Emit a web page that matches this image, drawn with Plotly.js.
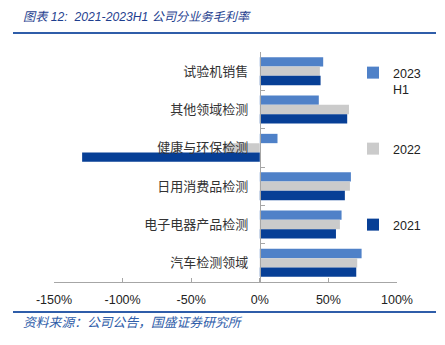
<!DOCTYPE html>
<html>
<head>
<meta charset="utf-8">
<script src="https://cdn.plot.ly/plotly-3.0.1.min.js"></script>
<style>html,body{margin:0;padding:0;background:#fff;}#chart{width:445px;height:345px;}</style>
</head>
<body>
<div id="chart"></div>
<script>
const categories = ['试验机销售', '其他领域检测', '健康与环保检测', '日用消费品检测', '电子电器产品检测', '汽车检测领域'];
const seriesNames = ['2023<br>H1', '2022', '2021'];
const v2023H1 = [46.2, 43.0, 12.9, 66.4, 59.6, 74.2];
const v2022 = [43.8, 65.0, -26.5, 65.7, 58.4, 71.0];
const v2021 = [44.3, 63.7, -129.5, 62.0, 55.5, 70.3];
const xTickVals = [-150, -100, -50, 0, 50, 100];
const xTickText = ['-150%', '-100%', '-50%', '0%', '50%', '100%'];
const colors = ['#4F81C8', '#CBCBCB', '#073F96'];

const data = [v2023H1, v2022, v2021].map((vals, i) => ({
  type: 'bar',
  orientation: 'h',
  y: categories,
  x: vals,
  name: seriesNames[i],
  marker: {color: colors[i]},
  legend: i === 0 ? 'legend' : (i === 1 ? 'legend2' : 'legend3'),
  hoverinfo: 'none'
}));

const legendBase = {
  xanchor: 'left', yanchor: 'middle', valign: 'top',
  bgcolor: 'rgba(0,0,0,0)', borderwidth: 0,
  font: {family: 'Liberation Sans, Arial, sans-serif', size: 12.5, color: '#222'},
  itemwidth: 30, tracegroupgap: 0
};
const pxToPaperX = px => (px - 54) / 343;
const pxToPaperY = py => (282 - py) / 230;

const layout = {
  width: 445, height: 345,
  margin: {l: 54, r: 48, t: 52, b: 63},
  paper_bgcolor: '#fff', plot_bgcolor: '#fff',
  barmode: 'group', bargap: 0.27, bargroupgap: 0,
  xaxis: {
    range: [-150, 100], tickmode: 'array', tickvals: xTickVals, ticktext: xTickText,
    showgrid: false, zeroline: false,
    showline: true, linecolor: '#A6A6A6', linewidth: 1,
    ticks: 'inside', ticklen: 4, tickcolor: '#A6A6A6',
    ticklabelstandoff: 6,
    tickfont: {family: 'Liberation Sans, Arial, sans-serif', size: 12.5, color: '#222'},
    fixedrange: true
  },
  yaxis: {
    type: 'category', autorange: 'reversed',
    anchor: 'free', position: 0.6, side: 'left',
    showgrid: false, zeroline: false,
    showline: true, linecolor: '#A6A6A6', linewidth: 1,
    ticks: 'inside', ticklen: 4, tickcolor: '#A6A6A6', tickson: 'boundaries',
    ticklabelstandoff: 9,
    tickfont: {family: 'Noto Sans CJK SC, sans-serif', size: 13, color: '#333'},
    fixedrange: true
  },
  legend: Object.assign({}, legendBase, {x: pxToPaperX(353), y: pxToPaperY(81)}),
  legend2: Object.assign({}, legendBase, {x: pxToPaperX(353), y: pxToPaperY(149)}),
  legend3: Object.assign({}, legendBase, {x: pxToPaperX(353), y: pxToPaperY(225)}),
  showlegend: true,
  shapes: [
    {type: 'line', xref: 'paper', yref: 'paper', x0: pxToPaperX(13), x1: pxToPaperX(436), y0: pxToPaperY(33), y1: pxToPaperY(33), line: {color: '#2F5DA9', width: 2}},
    {type: 'line', xref: 'paper', yref: 'paper', x0: pxToPaperX(13), x1: pxToPaperX(436), y0: pxToPaperY(312), y1: pxToPaperY(312), line: {color: '#2F5DA9', width: 2}}
  ],
  annotations: [
    {xref: 'paper', yref: 'paper', x: pxToPaperX(21), y: pxToPaperY(17), xanchor: 'left', yanchor: 'middle', showarrow: false,
     text: '<i>图表 12:  2021-2023H1 公司分业务毛利率</i>',
     font: {family: 'Liberation Sans, Noto Sans CJK SC, sans-serif', size: 12.2, color: '#1F3F8F'}},
    {xref: 'paper', yref: 'paper', x: pxToPaperX(21), y: pxToPaperY(321), xanchor: 'left', yanchor: 'middle', showarrow: false,
     text: '<i>资料来源：公司公告，国盛证券研究所</i>',
     font: {family: 'Noto Sans CJK SC, sans-serif', size: 12.8, color: '#2F5DA9'}}
  ]
};

Plotly.newPlot('chart', data, layout, {displayModeBar: false, staticPlot: true});
</script>
</body>
</html>
